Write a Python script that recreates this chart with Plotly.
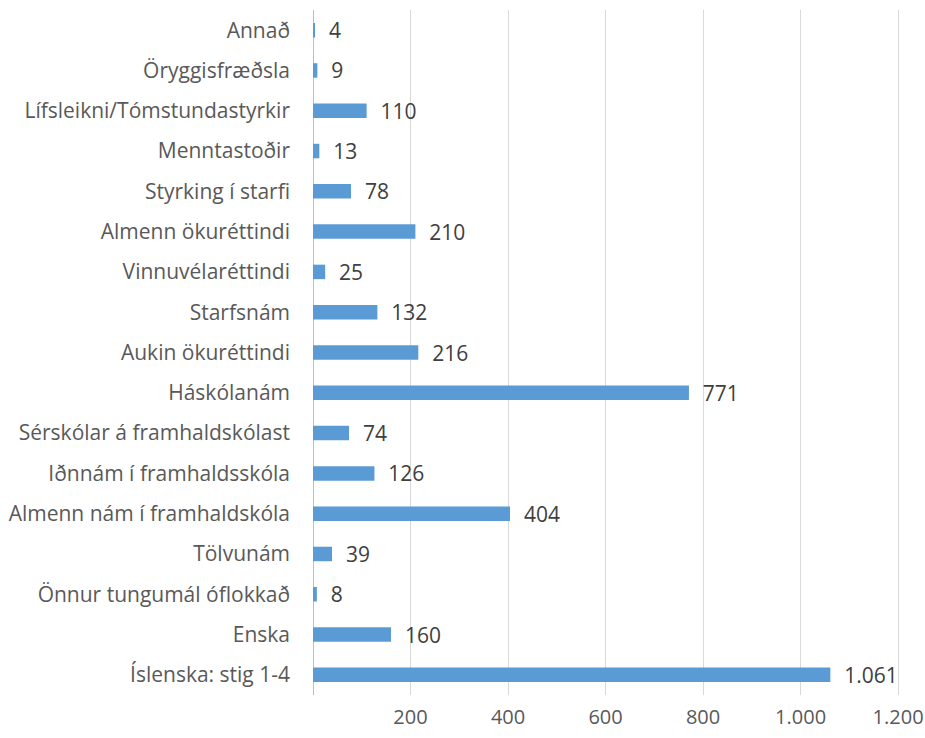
import plotly.graph_objects as go

categories = [
    "Annað", "Öryggisfræðsla", "Lífsleikni/Tómstundastyrkir", "Menntastoðir",
    "Styrking í starfi", "Almenn ökuréttindi", "Vinnuvélaréttindi", "Starfsnám",
    "Aukin ökuréttindi", "Háskólanám", "Sérskólar á framhaldskólast",
    "Iðnnám í framhaldsskóla", "Almenn nám í framhaldskóla", "Tölvunám",
    "Önnur tungumál óflokkað", "Enska", "Íslenska: stig 1-4",
]
values = [4, 9, 110, 13, 78, 210, 25, 132, 216, 771, 74, 126, 404, 39, 8, 160, 1061]
tick_vals = [200, 400, 600, 800, 1000, 1200]

fig = go.Figure(go.Bar(
    y=categories, x=values, orientation="h",
    marker=dict(color="#5B9BD5", line=dict(width=0)),
    text=values, texttemplate="  %{x:,}", textposition="outside",
    constraintext="none",
    textfont=dict(family="Open Sans", size=21, color="#404040"), cliponaxis=False,
    width=0.36,
))

fig.update_layout(
    width=925, height=738,
    margin=dict(l=313, r=22, t=10, b=43),
    paper_bgcolor="white", plot_bgcolor="white",
    separators=",.",
    font=dict(family="Open Sans", size=21, color="#595959"),
    showlegend=False,
)
fig.update_xaxes(
    range=[0, 1210], tickvals=tick_vals, tickformat=",",
    showgrid=True, gridcolor="#D9D9D9", gridwidth=1,
    zeroline=True, zerolinecolor="#BFBFBF", zerolinewidth=1,
    showline=False, ticks="", ticklabelstandoff=8, automargin=False,
    ticklabeloverflow="allow",
    tickfont=dict(size=20, color="#595959"),
)
fig.update_yaxes(
    categoryorder="array", categoryarray=categories, autorange="reversed",
    showgrid=False, showline=False, ticks="", ticklabelstandoff=22, automargin=False,
    tickfont=dict(size=21, color="#595959"),
)

fig.write_html(
    "out.html",
    config={"displayModeBar": False},
    post_script="document.body.style.margin='0';document.body.style.overflow='hidden';",
)
